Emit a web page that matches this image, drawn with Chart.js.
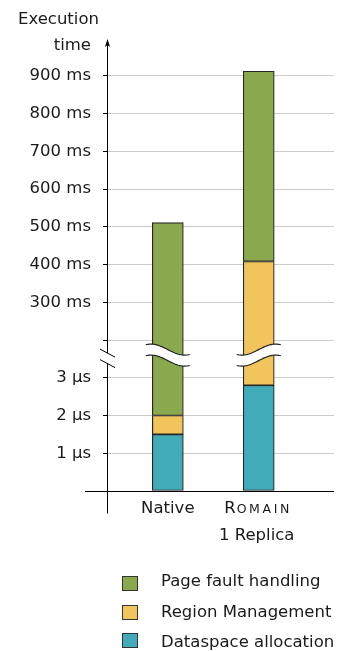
<!DOCTYPE html>
<html>
<head>
<meta charset="utf-8">
<script src="https://cdn.jsdelivr.net/npm/chart.js@4/dist/chart.umd.min.js"></script>
<style>
  html, body { margin: 0; padding: 0; background: #ffffff; }
  #wrap { width: 347px; height: 651px; }
</style>
</head>
<body>
<div id="wrap"><canvas id="chart" width="347" height="651"></canvas></div>
<script>
// ---- data ----------------------------------------------------------------
const categories   = ['Native', 'Romain'];
const subLabels    = ['', '1 Replica'];
const smallCapsCat = [false, true];

// segment durations in microseconds, bottom to top
const dataspaceUs = [1.5, 2.8];
const regionUs    = [0.5, 408000];
const pageFaultUs = [511000, 504000];

// tick labels for the two parts of the broken axis
const lowTicksUs  = [1, 2, 3];
const highTicksMs = [300, 400, 500, 600, 700, 800, 900];
const breakMs     = 200;     // value of the first line above the break
const breakUs     = 4;       // value of the last slot below the break

const seriesNames  = ['Page fault handling', 'Region Management', 'Dataspace allocation'];
const seriesColors = ['#8aa84d', '#f2c55c', '#42abb9'];

// ---- broken-axis transform: µs -> axis position --------------------------
function toPos(us) {
  if (us <= breakUs) return us;
  const ms = us / 1000;
  if (ms <= breakMs) return breakUs;
  return breakUs + (ms - breakMs) / 100;
}
function labelFor(pos) {
  if (lowTicksUs.includes(pos)) return pos + ' µs';
  const ms = breakMs + (pos - breakUs) * 100;
  if (highTicksMs.includes(ms)) return ms + ' ms';
  return '';
}

// floating segments built from the cumulative sums
function segments(parts) {
  return categories.map((_, i) => {
    let lo = 0;
    for (let k = 0; k < parts.length - 1; k++) lo += parts[k][i];
    const hi = lo + parts[parts.length - 1][i];
    return { x: i, y: [toPos(lo), toPos(hi)] };
  });
}
const dsData = segments([dataspaceUs]);
const rgData = segments([dataspaceUs, regionUs]);
const pfData = segments([dataspaceUs, regionUs, pageFaultUs]);

const FONT = '"DejaVu Sans", "Liberation Sans", sans-serif';
const TEXT = '#1a1a1a';
const TICK_POSITIONS = [0, 1, 2, 3, 4, 5, 6, 7, 8, 9, 10, 11, 12];
const BREAK_CENTER = 3.6;

// ---- decorations: bar breaks, axis, arrow, labels, legend ----------------
const decor = {
  id: 'decor',
  afterDatasetsDraw(chart) {
    const { ctx, scales: { x, y } } = chart;
    const yc = y.getPixelForValue(BREAK_CENTER);
    const A = 5.5, half = 22, gap = 5.5;
    categories.forEach((_, i) => {
      const cx = x.getPixelForValue(i);
      const dir = i === 0 ? 1 : -1;
      const wave = (off) => {
        const pts = [];
        for (let s = 0; s <= 40; s++) {
          const t = s / 40;
          pts.push([cx - half + t * 2 * half,
                    yc + off + dir * A * Math.sin(1.3 * Math.PI * (t - 0.5))]);
        }
        return pts;
      };
      const top = wave(-gap), bot = wave(gap);
      ctx.save();
      ctx.beginPath();
      top.forEach((p, k) => k ? ctx.lineTo(p[0], p[1]) : ctx.moveTo(p[0], p[1]));
      for (let k = bot.length - 1; k >= 0; k--) ctx.lineTo(bot[k][0], bot[k][1]);
      ctx.closePath();
      ctx.fillStyle = '#ffffff';
      ctx.fill();
      ctx.strokeStyle = '#222222';
      ctx.lineWidth = 1.2;
      [top, bot].forEach(line => {
        ctx.beginPath();
        line.forEach((p, k) => k ? ctx.lineTo(p[0], p[1]) : ctx.moveTo(p[0], p[1]));
        ctx.stroke();
      });
      ctx.restore();
    });
  },
  afterDraw(chart) {
    const { ctx, chartArea, scales: { x, y } } = chart;
    const ax = chartArea.left + 0.5;
    const y0 = Math.round(y.getPixelForValue(0)) + 0.5;
    const yc = y.getPixelForValue(BREAK_CENTER) + 1.5;
    ctx.save();
    ctx.strokeStyle = '#000000';
    ctx.lineWidth = 1;

    // baseline
    ctx.beginPath();
    ctx.moveTo(85, y0);
    ctx.lineTo(chartArea.right, y0);
    ctx.stroke();

    // vertical axis with a gap at the break
    const arrowTip = chartArea.top + 1;
    ctx.beginPath();
    ctx.moveTo(ax, arrowTip + 4);
    ctx.lineTo(ax, yc - 3.5);
    ctx.moveTo(ax, yc + 7);
    ctx.lineTo(ax, y0 + 22);
    ctx.stroke();

    // break marks on the axis
    ctx.beginPath();
    ctx.moveTo(ax - 7.5, yc - 7.5); ctx.lineTo(ax + 7.5, yc + 0.5);
    ctx.moveTo(ax - 7.5, yc + 3);   ctx.lineTo(ax + 7.5, yc + 11);
    ctx.stroke();

    // arrow head
    ctx.fillStyle = '#000000';
    ctx.beginPath();
    ctx.moveTo(ax, arrowTip);
    ctx.lineTo(ax - 2.6, arrowTip + 8);
    ctx.lineTo(ax, arrowTip + 6);
    ctx.lineTo(ax + 2.6, arrowTip + 8);
    ctx.closePath();
    ctx.fill();

    // axis title
    ctx.fillStyle = TEXT;
    ctx.font = '16.5px ' + FONT;
    ctx.textBaseline = 'alphabetic';
    ctx.textAlign = 'left';
    ctx.fillText('Execution', 18, 24);
    ctx.textAlign = 'right';
    ctx.fillText('time', 91, 50);

    // category labels
    categories.forEach((name, i) => {
      const cx = x.getPixelForValue(i);
      if (smallCapsCat[i]) {
        const big = '16.5px ' + FONT, small = '12.5px ' + FONT, sp = 2.6;
        const first = name[0].toUpperCase(), rest = name.slice(1).toUpperCase().split('');
        ctx.font = big;
        const w0 = ctx.measureText(first).width;
        ctx.font = small;
        const ws = rest.map(c => ctx.measureText(c).width);
        const total = w0 + 1 + ws.reduce((a, b) => a + b, 0) + sp * (rest.length - 1);
        let px = cx - 2 - total / 2;
        ctx.textAlign = 'left';
        ctx.font = big;
        ctx.fillText(first, px, 512.5);
        px += w0 + 1;
        ctx.font = small;
        rest.forEach((c, k) => { ctx.fillText(c, px, 512.5); px += ws[k] + sp; });
      } else {
        ctx.font = '16.5px ' + FONT;
        ctx.textAlign = 'center';
        ctx.fillText(name, cx, 512.5);
      }
      if (subLabels[i]) {
        ctx.font = '16.5px ' + FONT;
        ctx.textAlign = 'center';
        ctx.fillText(subLabels[i], cx - 2, 539.5);
      }
    });

    // legend
    const boxTops = [577, 606, 634];
    const baselines = [585.5, 617, 646.5];
    seriesNames.forEach((n, k) => {
      ctx.fillStyle = seriesColors[k];
      ctx.fillRect(123, boxTops[k], 14, 13);
      ctx.strokeStyle = '#333333';
      ctx.strokeRect(122.5, boxTops[k] - 0.5, 15, 14);
      ctx.fillStyle = TEXT;
      ctx.font = '16.5px ' + FONT;
      ctx.textAlign = 'left';
      ctx.fillText(n, 161, baselines[k]);
    });
    ctx.restore();
  }
};

const barStyle = { borderColor: '#262626', borderWidth: 1.2, borderSkipped: false, barThickness: 31 };

new Chart(document.getElementById('chart'), {
  type: 'bar',
  data: {
    datasets: [
      Object.assign({ label: seriesNames[2], data: dsData, backgroundColor: seriesColors[2] }, barStyle),
      Object.assign({ label: seriesNames[1], data: rgData, backgroundColor: seriesColors[1] }, barStyle),
      Object.assign({ label: seriesNames[0], data: pfData, backgroundColor: seriesColors[0] }, barStyle)
    ]
  },
  options: {
    responsive: false,
    devicePixelRatio: 1,
    animation: false,
    layout: { padding: { left: 0, right: 13, top: 38, bottom: 160 } },
    datasets: { bar: { grouped: false } },
    plugins: { legend: { display: false }, tooltip: { enabled: false } },
    scales: {
      x: {
        type: 'linear',
        display: false,
        offset: false,
        min: -0.669,
        max: 1.828
      },
      y: {
        type: 'linear',
        min: 0,
        max: 12,
        afterBuildTicks(scale) { scale.ticks = TICK_POSITIONS.map(v => ({ value: v })); },
        afterFit(scale) { scale.width = 107; },
        border: { display: false },
        grid: {
          color: c => (c.tick && (c.tick.value === 0 || c.tick.value === 12)) ? 'rgba(0,0,0,0)' : '#cccccc',
          tickColor: c => (c.tick && (c.tick.value === 0 || c.tick.value === 12)) ? 'rgba(0,0,0,0)' : '#000000',
          tickLength: 4,
          lineWidth: 1
        },
        ticks: {
          padding: 12,
          color: TEXT,
          font: { family: FONT, size: 16.5 },
          callback: v => labelFor(v)
        }
      }
    }
  },
  plugins: [decor]
});
</script>
</body>
</html>
